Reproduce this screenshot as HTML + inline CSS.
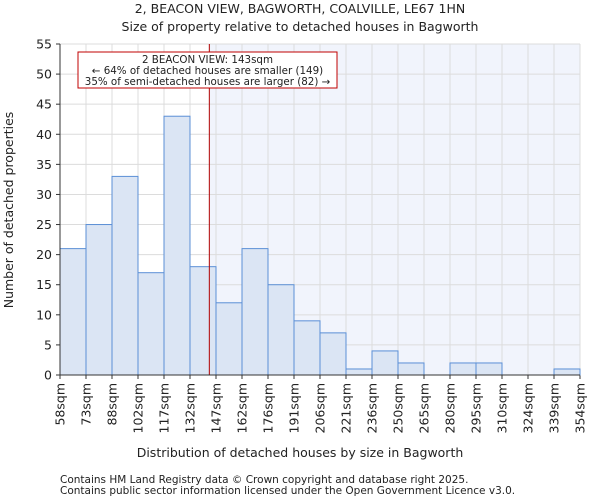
<!DOCTYPE html>
<html><head><meta charset="utf-8"><style>
body{margin:0;background:#fff;font-family:"DejaVu Sans","Liberation Sans",sans-serif;}
svg text{font-family:"DejaVu Sans","Liberation Sans",sans-serif;fill:#222;}
</style></head><body>
<svg id="c" width="600" height="500">
<text x="300" y="13" font-size="12.5" text-anchor="middle">2, BEACON VIEW, BAGWORTH, COALVILLE, LE67 1HN</text>
<text x="300" y="31" font-size="12.5" text-anchor="middle">Size of property relative to detached houses in Bagworth</text>
<g id="plot"></g>
<text x="300" y="457" font-size="12.5" text-anchor="middle">Distribution of detached houses by size in Bagworth</text>
<text transform="translate(13,210) rotate(-90)" font-size="12.5" text-anchor="middle">Number of detached properties</text>
<text x="60" y="483" font-size="10.5" fill="#444">Contains HM Land Registry data © Crown copyright and database right 2025.</text>
<text x="60" y="494" font-size="10.5" fill="#444">Contains public sector information licensed under the Open Government Licence v3.0.</text>
</svg>
<script>
const binLabels=["58sqm","73sqm","88sqm","102sqm","117sqm","132sqm","147sqm","162sqm","176sqm","191sqm","206sqm","221sqm","236sqm","250sqm","265sqm","280sqm","295sqm","310sqm","324sqm","339sqm","354sqm"];
const counts=[21,25,33,17,43,18,12,21,15,9,7,1,4,2,0,2,2,0,0,1];
const yTicks=[0,5,10,15,20,25,30,35,40,45,50,55];
const markerValue=143;
const binStart=58, binStep=14.8;
const L=60,R=580,T=44,B=375,yMax=55;
const NS="http://www.w3.org/2000/svg";
const g=document.getElementById('plot');
function el(t,a){const e=document.createElementNS(NS,t);for(const k in a)e.setAttribute(k,a[k]);g.appendChild(e);return e;}
const bw=(R-L)/counts.length;
const xi=i=>L+i*bw;
const xv=v=>L+(v-binStart)/binStep*bw;
const y=v=>B-(v/yMax)*(B-T);
const mx=xv(markerValue);
let bg=el('rect',{x:mx,y:T,width:R-mx,height:B-T,fill:'#f1f4fc'});


yTicks.forEach(t=>{
 const l=el('line',{x1:L,x2:R,y1:y(t),y2:y(t),stroke:'#dcdcdc','stroke-width':1});
 
 
 const tk=el('line',{x1:L-4,x2:L,y1:y(t),y2:y(t),stroke:'#333'});
 
 
 const tx=el('text',{x:L-8,y:y(t)+4.5,'font-size':12.5,'text-anchor':'end'});
 tx.textContent=t;
 
 
});
binLabels.forEach((s,i)=>{
 const l=el('line',{x1:xi(i),x2:xi(i),y1:T,y2:B,stroke:'#dcdcdc'});
 
 
 const tk=el('line',{x1:xi(i),x2:xi(i),y1:B,y2:B+4,stroke:'#333'});
 
 
 const tx=el('text',{transform:`translate(${xi(i)+4.5},${B+8}) rotate(-90)`,'font-size':12.5,'text-anchor':'end'});
 tx.textContent=s;
 
 
});
counts.forEach((c,i)=>{
 if(c<=0)return;
 const r=el('rect',{x:xi(i),y:y(c),width:bw,height:B-y(c),fill:'#dbe5f4',stroke:'#5b8fd6','stroke-width':1});
 
 
});
const ml=el('line',{x1:mx,x2:mx,y1:T,y2:B,stroke:'#b00000','stroke-width':1});


const ax=el('path',{d:`M${L},${T}V${B}H${R}`,fill:'none',stroke:'#333'});


const bx=el('rect',{x:78,y:52,width:259,height:36,fill:'#fff',stroke:'#c00000'});


["2 BEACON VIEW: 143sqm","← 64% of detached houses are smaller (149)","35% of semi-detached houses are larger (82) →"].forEach((s,i)=>{
 const t=el('text',{x:207.5,y:63+i*11,'font-size':10.3,'text-anchor':'middle'});
 t.textContent=s;
 
 
});
</script>
</body></html>
